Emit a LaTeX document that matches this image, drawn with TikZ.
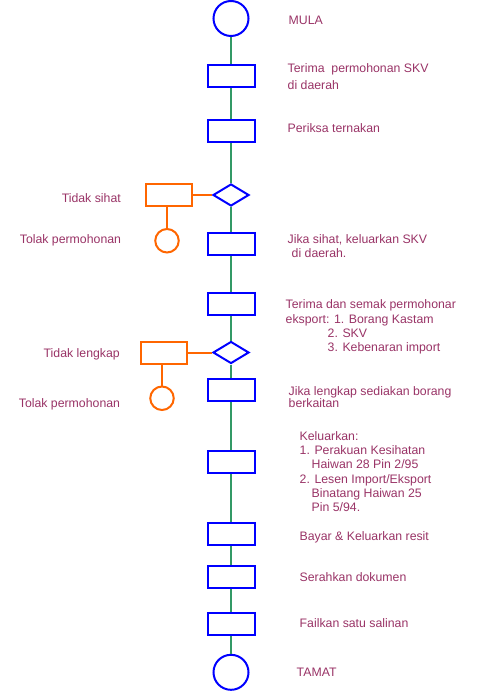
\documentclass[tikz,border=0pt]{standalone}
\usepackage{fontspec}
\setmainfont{Liberation Sans}
\usepackage{xcolor}
\usetikzlibrary{shapes.geometric, positioning}
\definecolor{flowblue}{HTML}{0000FF}
\definecolor{flowgreen}{HTML}{339966}
\definecolor{rejorange}{HTML}{FF6600}
\definecolor{plum}{HTML}{993366}
\tikzset{
  stepbox/.style={rectangle, draw=flowblue, line width=2pt, minimum width=47pt, minimum height=22pt, inner sep=0pt},
  terminal/.style={circle, draw=flowblue, line width=2pt, minimum size=35pt, inner sep=0pt},
  decision/.style={diamond, draw=flowblue, line width=2pt, minimum width=36pt, minimum height=22pt, inner sep=0pt},
  rejbox/.style={rectangle, draw=rejorange, line width=2pt, minimum width=46pt, minimum height=22pt, inner sep=0pt},
  rejend/.style={circle, draw=rejorange, line width=2pt, minimum size=23.5pt, inner sep=0pt},
  note/.style={text=plum, font=\fontsize{12.3}{14.2}\selectfont, align=left, inner sep=0pt},
  flow/.style={draw=flowgreen, line width=2pt},
  rej/.style={draw=rejorange, line width=2pt},
}
\begin{document}
\begin{tikzpicture}[x=1pt, y=1pt]
  \useasboundingbox (0,0) rectangle (481,-692);
  \node[terminal] (mula) at (231,-18.5) {};
  \node[stepbox, below=27pt of mula] (terima) {};
  \node[stepbox, below=31pt of terima] (periksa) {};
  \node[decision, below=40pt of periksa] (sihat) {};
  \node[stepbox, below=25pt of sihat] (skv) {};
  \node[stepbox, below=36pt of skv] (semak) {};
  \node[decision, below=24.5pt of semak] (lengkap) {};
  \node[stepbox, below=13.5pt of lengkap] (borang) {};
  \node[stepbox, below=48pt of borang] (keluar) {};
  \node[stepbox, below=48pt of keluar] (bayar) {};
  \node[stepbox, below=19pt of bayar] (serah) {};
  \node[stepbox, below=22.5pt of serah] (fail) {};
  \node[terminal, below=18.3pt of fail] (tamat) {};
  \node[rejbox, left=19pt of sihat] (tksihat) {};
  \node[rejend, below=21pt of tksihat, xshift=-2pt] (tolaka) {};
  \node[rejbox, left=24pt of lengkap] (tklengkap) {};
  \node[rejend, below=21pt of tklengkap, xshift=-2pt] (tolakb) {};
  \node[note, right=39pt of mula, yshift=-2pt] {MULA};
  \node[note, right=32pt of terima, yshift=-1pt] {Terima~ permohonan SKV\\[3pt]di daerah};
  \node[note, right=32pt of periksa, yshift=2.5pt] {Periksa ternakan};
  \node[note, right=32pt of skv, yshift=-2pt] {Jika sihat, keluarkan SKV\\\hspace{4pt}di daerah.};
  \node[note, right=30pt of semak, yshift=-23pt] {Terima dan semak permohonar\\eksport: 1. Borang Kastam\\\hspace{42pt}2. SKV\\\hspace{42pt}3. Kebenaran import};
  \node[note, right=33pt of borang, yshift=-7pt] {Jika lengkap sediakan borang\\[-2pt]berkaitan};
  \node[note, right=44pt of keluar, yshift=-9.5pt] {Keluarkan:\\1. Perakuan Kesihatan\\\hspace{12pt}Haiwan 28 Pin 2/95\\2. Lesen Import/Eksport\\\hspace{12pt}Binatang Haiwan 25\\\hspace{12pt}Pin 5/94.};
  \node[note, right=44pt of bayar, yshift=-3pt] {Bayar \& Keluarkan resit};
  \node[note, right=44pt of serah] {Serahkan dokumen};
  \node[note, right=44pt of fail] {Failkan satu salinan};
  \node[note, right=47pt of tamat] {TAMAT};
  \node[note, left=24pt of tksihat, yshift=-3pt] {Tidak sihat};
  \node[note, left=33pt of tolaka] {Tolak permohonan};
  \node[note, left=20pt of tklengkap, yshift=-2pt] {Tidak lengkap};
  \node[note, left=29pt of tolakb, yshift=-6pt] {Tolak permohonan};
  \draw[flow] (mula) -- (terima);
  \draw[flow] (terima) -- (periksa);
  \draw[flow] (periksa) -- (sihat);
  \draw[flow] (sihat) -- (skv);
  \draw[flow] (skv) -- (semak);
  \draw[flow] (semak) -- (lengkap);
  \draw[flow] (lengkap) -- (borang);
  \draw[flow] (borang) -- (keluar);
  \draw[flow] (keluar) -- (bayar);
  \draw[flow] (bayar) -- (serah);
  \draw[flow] (serah) -- (fail);
  \draw[flow] (fail) -- (tamat);
  \draw[rej] (sihat) -- (tksihat);
  \draw[rej] (tolaka) -- (tolaka |- tksihat.south);
  \draw[rej] (lengkap) -- (tklengkap);
  \draw[rej] (tolakb) -- (tolakb |- tklengkap.south);
\end{tikzpicture}
\end{document}
